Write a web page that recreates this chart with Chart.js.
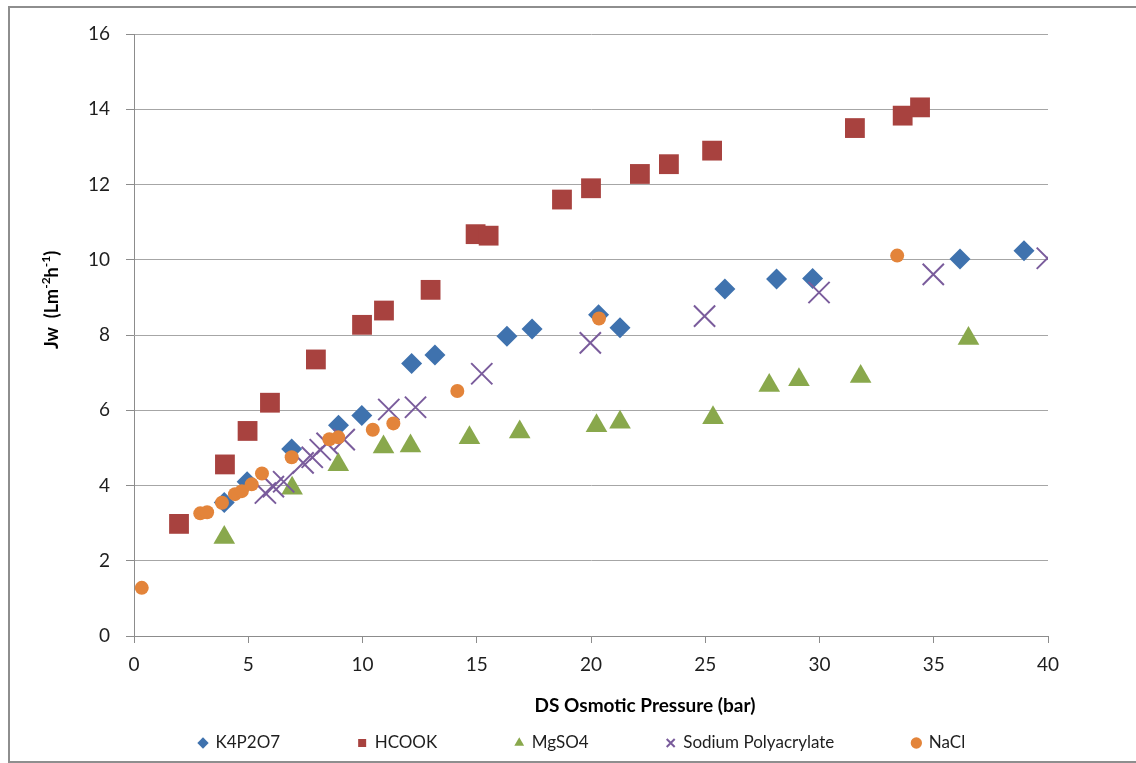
<!DOCTYPE html>
<html>
<head>
<meta charset="utf-8">
<script src="https://cdn.jsdelivr.net/npm/chart.js@4.4.0/dist/chart.umd.min.js"></script>
<style>
	body { margin: 0; background: #ffffff; overflow: hidden; }
	#wrap { position: relative; width: 1136px; height: 763px; }
	#frame { position: absolute; left: 8px; top: 6px; width: 1140px; height: 757px; border: 2px solid #8e8e8e; box-sizing: border-box; pointer-events: none; }
</style>
</head>
<body>
<div id="wrap">
	<canvas id="myChart"></canvas>
	<div id="frame"></div>
</div>
<script>
// values (x = DS osmotic pressure in bar, y = Jw)
const k4p2o7X = [3.95, 4.95, 6.9, 8.95, 9.97, 12.15, 13.17, 16.32, 17.42, 20.33, 21.27, 25.86, 28.12, 29.7, 36.15, 38.95];
const k4p2o7Y = [3.55, 4.1, 4.97, 5.6, 5.86, 7.24, 7.47, 7.97, 8.16, 8.54, 8.19, 9.22, 9.49, 9.5, 10.02, 10.24];

const hcookX = [1.97, 3.98, 4.97, 5.95, 7.96, 9.98, 10.94, 12.98, 14.95, 15.52, 18.73, 20.0, 22.14, 23.41, 25.3, 31.55, 33.64, 34.4];
const hcookY = [2.98, 4.56, 5.45, 6.2, 7.35, 8.27, 8.65, 9.2, 10.68, 10.64, 11.6, 11.9, 12.28, 12.54, 12.9, 13.5, 13.83, 14.05];

const mgso4X = [3.95, 6.92, 8.94, 10.92, 12.1, 14.68, 16.88, 20.24, 21.27, 25.34, 27.8, 29.1, 31.8, 36.52];
const mgso4Y = [2.62, 3.93, 4.55, 5.02, 5.05, 5.27, 5.42, 5.59, 5.68, 5.8, 6.66, 6.81, 6.9, 7.91];

const polyX = [5.75, 6.1, 6.55, 7.4, 7.8, 8.15, 8.45, 9.2, 11.15, 12.32, 15.22, 19.97, 24.97, 29.98, 34.98, 39.97];
const polyY = [3.8, 3.97, 4.1, 4.6, 4.75, 4.95, 5.12, 5.22, 6.02, 6.08, 6.97, 7.79, 8.5, 9.13, 9.61, 10.04];

const naclX = [0.34, 2.9, 3.2, 3.85, 4.42, 4.72, 5.15, 5.6, 6.9, 8.55, 8.94, 10.45, 11.35, 14.15, 20.35, 33.4];
const naclY = [1.28, 3.26, 3.29, 3.54, 3.77, 3.85, 4.03, 4.32, 4.75, 5.23, 5.28, 5.48, 5.65, 6.51, 8.44, 10.11];

const seriesNames = ['K4P2O7', 'HCOOK', 'MgSO4', 'Sodium Polyacrylate', 'NaCl'];
const xTitle = 'DS Osmotic Pressure (bar)';
const xTicks = { min: 0, max: 40, step: 5 };
const yTicks = { min: 0, max: 16, step: 2 };

function toPoints(xs, ys) {
	const pts = [];
	for (let i = 0; i < xs.length; i++) {
		pts.push({ x: xs[i], y: ys[i] });
	}
	return pts;
}

const FONT = 'Lato, "Open Sans", sans-serif';
const TEXT = '#1e1e1e';
const GRID = '#a6a6a6';
const AXIS = '#8c8c8c';

// axis titles drawn by hand so the y one can carry superscripts
const axisTitles = {
	id: 'axisTitles',
	afterDraw: (chart) => {
		const { ctx, chartArea } = chart;
		ctx.save();
		ctx.fillStyle = '#000000';
		ctx.textBaseline = 'middle';
		ctx.font = 'bold 19px ' + FONT;
		ctx.textAlign = 'center';
		ctx.fillText(xTitle, chartArea.left + 511, chartArea.bottom + 70);

		const parts = [
			['Jw  (Lm', false],
			['-2', true],
			['h', false],
			['-1', true],
			[')', false]
		];
		const big = 'bold 18px ' + FONT;
		const small = 'bold 12px ' + FONT;
		let total = 0;
		parts.forEach(p => { ctx.font = p[1] ? small : big; total += ctx.measureText(p[0]).width; });
		ctx.translate(chartArea.left - 82, chartArea.top + 266);
		ctx.rotate(-Math.PI / 2);
		ctx.textAlign = 'left';
		let pos = -total / 2;
		parts.forEach(p => {
			ctx.font = p[1] ? small : big;
			ctx.fillText(p[0], pos, p[1] ? -6 : 0);
			pos += ctx.measureText(p[0]).width;
		});
		ctx.restore();
	}
};

// legend needs wide gaps between items but must sit close under the axis title
const legendShift = {
	id: 'legendShift',
	afterLayout: (chart) => {
		const lg = chart.legend;
		if (!lg) return;
		const dx = 101;
		const dy = -19.5;
		lg.left += dx; lg.right += dx;
		lg.top += dy;
		lg.bottom = chart.height;
	}
};

const ctx = document.getElementById('myChart').getContext('2d');

const plotData = {
	datasets: [
		{
			label: seriesNames[0],
			data: toPoints(k4p2o7X, k4p2o7Y),
			pointStyle: 'rectRot',
			pointRadius: 10.5,
			backgroundColor: '#3f72ae',
			borderColor: '#3f72ae',
			borderWidth: 0,
			order: 5
		},
		{
			label: seriesNames[1],
			data: toPoints(hcookX, hcookY),
			pointStyle: 'rect',
			pointRadius: 14,
			backgroundColor: '#a8423f',
			borderColor: '#a8423f',
			borderWidth: 0,
			order: 4
		},
		{
			label: seriesNames[2],
			data: toPoints(mgso4X, mgso4Y),
			pointStyle: 'triangle',
			pointRadius: 12.5,
			backgroundColor: '#89a84c',
			borderColor: '#89a84c',
			borderWidth: 0,
			order: 3
		},
		{
			label: seriesNames[3],
			data: toPoints(polyX, polyY),
			pointStyle: 'crossRot',
			pointRadius: 15,
			backgroundColor: '#7a5c9c',
			borderColor: '#7a5c9c',
			borderWidth: 2,
			order: 2
		},
		{
			label: seriesNames[4],
			data: toPoints(naclX, naclY),
			pointStyle: 'circle',
			pointRadius: 7,
			backgroundColor: '#e3843a',
			borderColor: '#e3843a',
			borderWidth: 0,
			order: 1
		}
	]
};

const config = {
	type: 'scatter',
	data: plotData,
	options: {
		responsive: true,
		maintainAspectRatio: false,
		animation: false,
		layout: {
			padding: { left: 20, right: 88, top: 34, bottom: 0 }
		},
		scales: {
			x: {
				type: 'linear',
				min: xTicks.min,
				max: xTicks.max,
				ticks: {
					stepSize: xTicks.step,
					color: TEXT,
					font: { family: FONT, size: 19 },
					padding: 10,
					maxRotation: 0
				},
				grid: {
					drawOnChartArea: false,
					drawTicks: true,
					tickLength: 7,
					tickColor: AXIS,
					color: AXIS
				},
				border: { color: AXIS, width: 1 },
				afterFit: (scale) => { scale.height = 40; }
			},
			y: {
				min: yTicks.min,
				max: yTicks.max,
				ticks: {
					stepSize: yTicks.step,
					color: TEXT,
					font: { family: FONT, size: 19 },
					padding: 16
				},
				grid: {
					color: GRID,
					tickLength: 8,
					tickColor: AXIS
				},
				border: { color: AXIS, width: 1 },
				afterFit: (scale) => { scale.width = 114; }
			}
		},
		plugins: {
			tooltip: { enabled: false },
			legend: {
				position: 'bottom',
				align: 'start',
				maxHeight: 87,
				labels: {
					usePointStyle: true,
					boxWidth: 8,
					boxHeight: 8,
					padding: 78,
					color: TEXT,
					font: { family: FONT, size: 17 },
					sort: (a, b) => a.datasetIndex - b.datasetIndex
				}
			}
		}
	},
	plugins: [axisTitles, legendShift]
};

const myChart = new Chart(ctx, config);
</script>
</body>
</html>
